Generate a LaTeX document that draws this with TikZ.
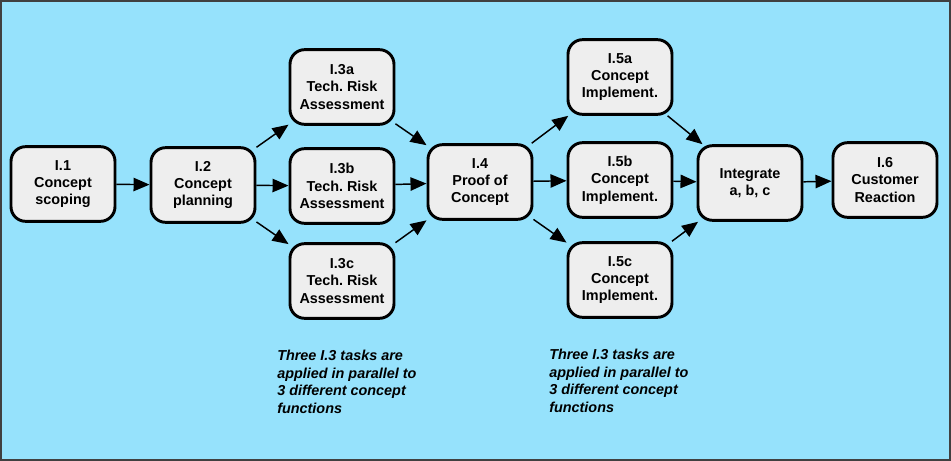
\documentclass[tikz,border=0pt]{standalone}
\usepackage{fontspec}
\setmainfont{Liberation Sans}
\usetikzlibrary{arrows.meta}
\definecolor{skyback}{RGB}{150,226,252}
\definecolor{taskfill}{RGB}{238,238,238}
\newcommand*{\ParallelNote}{Three I.3 tasks are\\applied in parallel to\\3 different concept\\functions}
\frenchspacing

\begin{document}
\begin{tikzpicture}[x=0.75pt,y=-0.75pt,
    task/.style={draw=black,line width=2.2pt,fill=taskfill,rounded corners=11pt,
        minimum width=78pt,minimum height=56pt,inner sep=0pt,align=center,
        font=\bfseries\fontsize{10.8}{13}\selectfont},
    flow/.style={-{Triangle[length=12pt,width=10pt]},line width=1.1pt},
    note/.style={anchor=north west,inner sep=0pt,align=left,
        font=\bfseries\itshape\fontsize{10.8}{13.2}\selectfont}]
    \useasboundingbox (0,0) rectangle (951,461);
    \fill[skyback] (0,0) rectangle (951,461);
    \draw[line width=1.5pt,black!75] (1,1) rectangle (950,460);

    % tasks
    \node[task] (i1) at (63,184) {I.1\\Concept\\scoping};
    \node[task] (i2) at (203,185) {I.2\\Concept\\planning};
    \node[task] (i3a) at (342,87) {I.3a\\Tech. Risk\\Assessment};
    \node[task] (i3b) at (342,186) {I.3b\\Tech. Risk\\Assessment};
    \node[task] (i3c) at (342,281) {I.3c\\Tech. Risk\\Assessment};
    \node[task] (i4) at (480,182) {I.4\\Proof of\\Concept};
    \node[task] (i5a) at (620,77) {I.5a\\Concept\\Implement.};
    \node[task] (i5b) at (620,180) {I.5b\\Concept\\Implement.};
    \node[task] (i5c) at (620,280) {I.5c\\Concept\\Implement.};
    \node[task] (integ) at (750,183) {Integrate\\a, b, c};
    \node[task] (i6) at (885,180) {I.6\\Customer\\Reaction};

    % flow between tasks
    \draw[flow] (i1) -- (i2);
    \foreach \t in {i3a,i3b,i3c}
        \draw[flow] (i2) -- (\t);
    \foreach \t in {i3a,i3b,i3c}
        \draw[flow] (\t) -- (i4);
    \foreach \t in {i5a,i5b,i5c}
        \draw[flow] (i4) -- (\t);
    \foreach \t in {i5a,i5b,i5c}
        \draw[flow] (\t) -- (integ);
    \draw[flow] (integ) -- (i6);

    \node[note] (noteleft) at (277,350) {\ParallelNote};
    \node[note] (noteright) at (549,349) {\ParallelNote};
\end{tikzpicture}
\end{document}
